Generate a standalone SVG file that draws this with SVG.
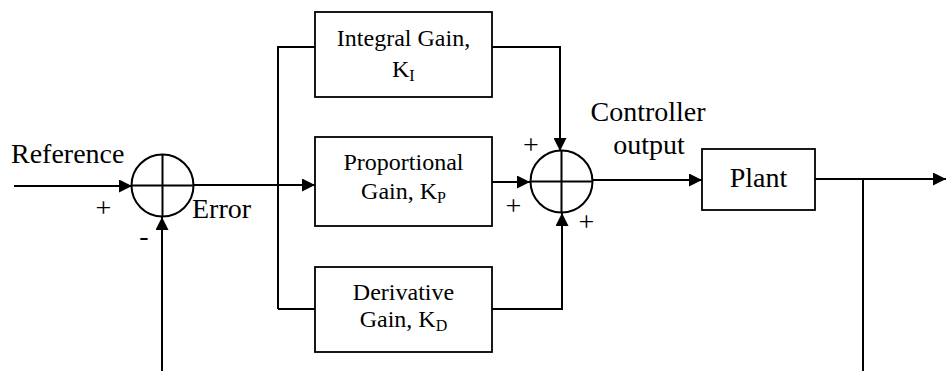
<svg xmlns="http://www.w3.org/2000/svg" width="946" height="371" viewBox="0 0 946 371">
<style>
.box{fill:#fff;stroke:#000;stroke-width:1.8}
.sum{fill:none;stroke:#000;stroke-width:2}
.ln{fill:none;stroke:#000;stroke-width:2}
</style>
<defs>
<marker id="ah" markerUnits="userSpaceOnUse" markerWidth="13" markerHeight="13" viewBox="0 0 13 13" refX="13" refY="6.5" orient="auto">
<path d="M0,0 L13,6.5 L0,13 Z" fill="#000"/>
</marker>
</defs>
<g id="connectors">
<path class="ln" d="M14,186 H132" marker-end="url(#ah)"/>
<path class="ln" d="M193,185 H315" marker-end="url(#ah)"/>
<path class="ln" d="M278,309 V47 H315"/>
<path class="ln" d="M278,309 H315"/>
<path class="ln" d="M492,47 H560 V151" marker-end="url(#ah)"/>
<path class="ln" d="M492,182 H530" marker-end="url(#ah)"/>
<path class="ln" d="M492,309 H562 V213" marker-end="url(#ah)"/>
<path class="ln" d="M593,180 H702" marker-end="url(#ah)"/>
<path class="ln" d="M815,179 H946" marker-end="url(#ah)"/>
<path class="ln" d="M863,179 V371"/>
<path class="ln" d="M162,371 V217" marker-end="url(#ah)"/>
</g>
<g fill="#000" font-family="Liberation Serif, Times New Roman, serif">
<g id="sum1">
<circle class="sum" cx="162.5" cy="185.5" r="31"/>
<path class="sum" d="M131.5,185.5 H193.5 M162.5,154.5 V216.5"/>
</g>
<g id="integral" font-size="24">
<rect class="box" x="315" y="12" width="177" height="85"/>
<text x="403.5" y="46" text-anchor="middle">Integral Gain,</text>
<text x="392" y="77">K<tspan font-size="16" dy="4">I</tspan></text>
</g>
<g id="proportional" font-size="24">
<rect class="box" x="315" y="137" width="177" height="89"/>
<text x="403.5" y="170" text-anchor="middle">Proportional</text>
<text x="403.5" y="199" text-anchor="middle">Gain, K<tspan font-size="16" dy="4">P</tspan></text>
</g>
<g id="derivative" font-size="24">
<rect class="box" x="315" y="267" width="177" height="85"/>
<text x="403.5" y="300" text-anchor="middle">Derivative</text>
<text x="403.5" y="327" text-anchor="middle">Gain, K<tspan font-size="16" dy="4">D</tspan></text>
</g>
<g id="sum2">
<circle class="sum" cx="561.5" cy="181.5" r="31"/>
<path class="sum" d="M530.5,181.5 H592.5 M561.5,150.5 V212.5"/>
</g>
<g id="plant" font-size="28">
<rect class="box" x="702" y="149" width="113" height="61"/>
<text x="758.5" y="187" text-anchor="middle">Plant</text>
</g>
<g id="labels" font-size="28">
<text x="11" y="163">Reference</text>
<text x="192" y="218">Error</text>
<text x="648" y="121" text-anchor="middle">Controller</text>
<text x="649" y="154" text-anchor="middle">output</text>
<g font-size="28" text-anchor="middle">
<text x="103.5" y="217">+</text>
<text x="144" y="245">-</text>
<text x="531" y="154">+</text>
<text x="513.5" y="215">+</text>
<text x="586.5" y="231">+</text>
</g>
</g>
</g>
</svg>
